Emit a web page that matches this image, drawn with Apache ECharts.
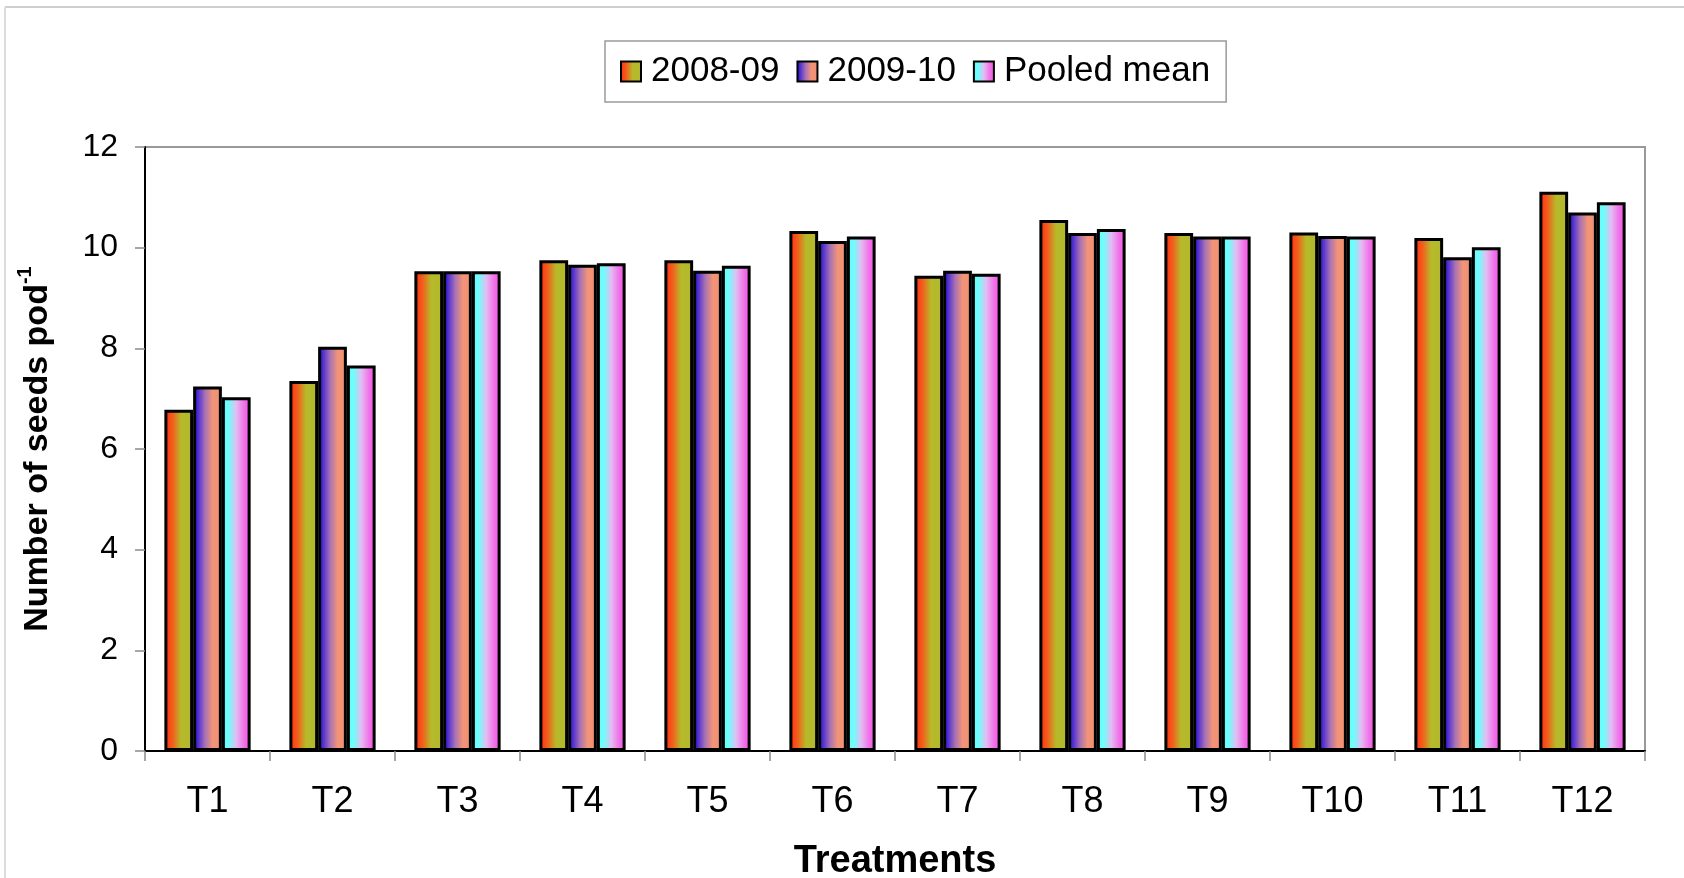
<!DOCTYPE html>
<html>
<head>
<meta charset="utf-8">
<title>Number of seeds per pod by treatment</title>
<script src="https://cdn.jsdelivr.net/npm/echarts@6/dist/echarts.min.js"></script>
<style>
  html, body { margin: 0; padding: 0; background: #ffffff; }
  #chart { width: 1684px; height: 878px; }
</style>
</head>
<body>
<div id="chart"></div>
<script>
// Treatments along the x axis
const treatments = ['T1', 'T2', 'T3', 'T4', 'T5', 'T6', 'T7', 'T8', 'T9', 'T10', 'T11', 'T12'];

// Number of seeds per pod for each season and the pooled mean
const season2008 = [6.78, 7.35, 9.53, 9.75, 9.75, 10.33, 9.44, 10.55, 10.29, 10.30, 10.19, 11.11];
const season2009 = [7.24, 8.03, 9.53, 9.66, 9.54, 10.13, 9.54, 10.29, 10.22, 10.23, 9.81, 10.70];
const pooledMean = [7.03, 7.66, 9.53, 9.69, 9.64, 10.22, 9.48, 10.37, 10.22, 10.22, 10.01, 10.90];

const seriesNames = ['2008-09', '2009-10', 'Pooled mean'];

const FONT = '"Liberation Sans", Arial, sans-serif';

// horizontal two-tone fills for each series
function hGrad(stops) {
  return new echarts.graphic.LinearGradient(0, 0, 1, 0,
    stops.map(([offset, color]) => ({ offset, color })));
}
const fills = [
  hGrad([[0, '#6a1000'], [0.1, '#ff3a16'], [0.3, '#f0621c'], [0.58, '#b6ba2a'], [1, '#b2b82e']]),
  hGrad([[0, '#22108a'], [0.12, '#3e22d6'], [0.42, '#a872b4'], [0.68, '#f29478'], [1, '#f29070']]),
  hGrad([[0, '#5cffff'], [0.25, '#74fbfb'], [0.5, '#e4bcf2'], [0.78, '#f170e8'], [1, '#f04fe2']])
];

function barSeries(name, data, fill) {
  return {
    name,
    type: 'bar',
    data,
    barGap: '0%',
    barCategoryGap: '31%',
    itemStyle: { color: fill, borderColor: '#000000', borderWidth: 3 },
    emphasis: { disabled: true }
  };
}

const chart = echarts.init(document.getElementById('chart'), null, { renderer: 'canvas' });

chart.setOption({
  backgroundColor: '#ffffff',
  animation: false,
  textStyle: { fontFamily: FONT },
  graphic: [
    // light frame around the figure (top and left edges)
    { type: 'line', shape: { x1: 5, y1: 7, x2: 1684, y2: 7 }, style: { stroke: '#cfcfcf', lineWidth: 2 }, silent: true },
    { type: 'line', shape: { x1: 5, y1: 7, x2: 5, y2: 878 }, style: { stroke: '#dcdcdc', lineWidth: 2 }, silent: true }
  ],
  legend: {
    data: seriesNames,
    left: 605,
    top: 41,
    orient: 'horizontal',
    icon: 'rect',
    itemWidth: 20,
    itemHeight: 20,
    itemGap: 17,
    padding: [13, 16, 13, 15],
    borderColor: '#9a9a9a',
    borderWidth: 1.5,
    backgroundColor: '#ffffff',
    textStyle: { fontFamily: FONT, fontSize: 35, color: '#000000', padding: [0, 0, 0, 5] },
    itemStyle: { borderColor: '#000000', borderWidth: 2 },
    selectedMode: false
  },
  grid: {
    left: 145,
    right: 39,
    top: 147,
    bottom: 127,
    outerBoundsMode: 'none',
    containLabel: false,
    show: true,
    borderColor: '#999999',
    borderWidth: 2,
    backgroundColor: 'transparent'
  },
  xAxis: {
    type: 'category',
    data: treatments,
    boundaryGap: true,
    axisLine: { show: true, lineStyle: { color: '#000000', width: 2 } },
    axisTick: { show: true, alignWithLabel: false, inside: false, length: 10, lineStyle: { color: '#8a8a8a', width: 1.5 } },
    axisLabel: { fontFamily: FONT, fontSize: 36, color: '#000000', margin: 33 },
    splitLine: { show: false },
    name: 'Treatments',
    nameLocation: 'middle',
    nameGap: 92,
    nameTextStyle: { fontFamily: FONT, fontSize: 38, fontWeight: 'bold', color: '#000000' }
  },
  yAxis: {
    type: 'value',
    min: 0,
    max: 12,
    interval: 2,
    axisLine: { show: true, lineStyle: { color: '#000000', width: 2 } },
    axisTick: { show: true, inside: false, length: 10, lineStyle: { color: '#8a8a8a', width: 1.5 } },
    axisLabel: { fontFamily: FONT, fontSize: 32, color: '#000000', margin: 27 },
    splitLine: { show: false },
    name: '{a|Number of seeds pod}{s|-1}',
    nameLocation: 'middle',
    nameGap: 90,
    nameRotate: 90,
    nameTextStyle: {
      rich: {
        a: { fontFamily: FONT, fontSize: 34, fontWeight: 'bold', color: '#000000', lineHeight: 40, verticalAlign: 'bottom' },
        s: { fontFamily: FONT, fontSize: 20, fontWeight: 'bold', color: '#000000', lineHeight: 40, verticalAlign: 'top', padding: [0, 0, 16, 0] }
      }
    }
  },
  series: [
    barSeries(seriesNames[0], season2008, fills[0]),
    barSeries(seriesNames[1], season2009, fills[1]),
    barSeries(seriesNames[2], pooledMean, fills[2])
  ]
});
</script>
</body>
</html>
